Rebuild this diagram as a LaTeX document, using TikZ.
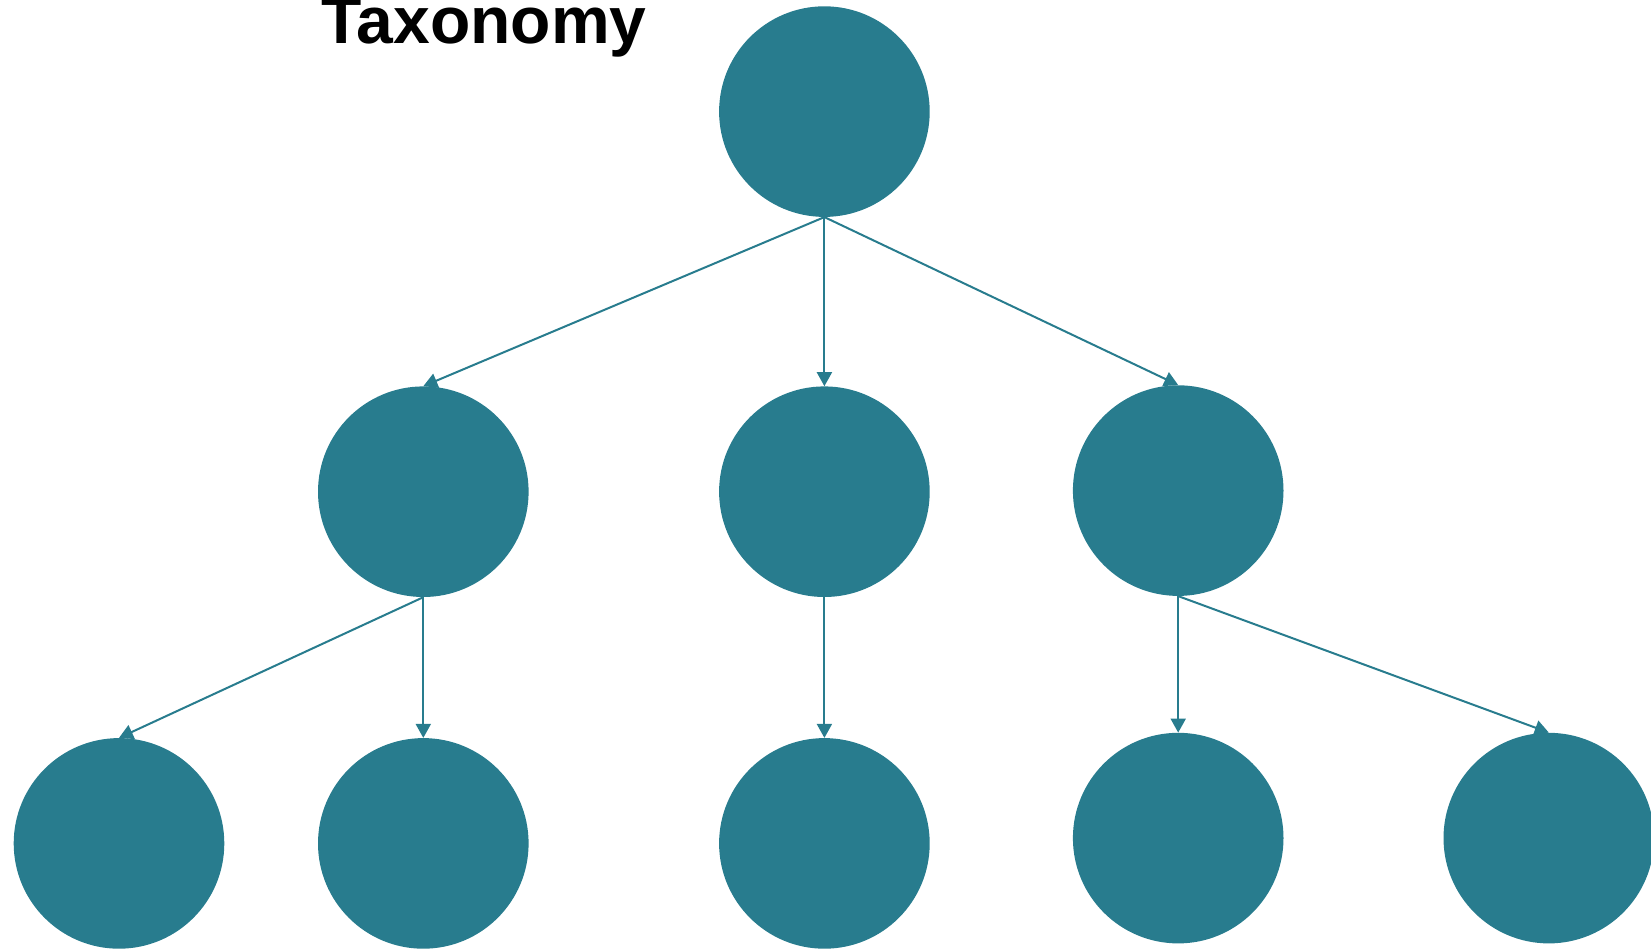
\documentclass[tikz,border=0pt]{standalone}
\usepackage{fontspec}
\setmainfont{Liberation Sans}
\usetikzlibrary{arrows.meta}
\definecolor{teal}{HTML}{287C8E}
\begin{document}
\begin{tikzpicture}[x=1pt,y=-1pt,
  taxon/.style={circle, fill=teal, draw=none, minimum size=210.6pt, inner sep=0pt},
  link/.style={draw=teal, line width=2pt, -{Triangle[length=14pt,width=15pt]}},
  title/.style={font=\bfseries\fontsize{66}{70}\selectfont, anchor=base west, inner sep=0pt}]
  \useasboundingbox (0,0) rectangle (1651,950);
  \clip (0,0) rectangle (1651,950);

  % title
  \node[title] (ttl) at (321,44) {Taxonomy};

  % root
  \node[taxon] (r) at (824.4,111.6) {};

  % second level
  \node[taxon] (a) at (423.3,491.7) {};
  \node[taxon] (b) at (824.4,491.7) {};
  \node[taxon] (c) at (1178.2,490.6) {};

  % third level
  \node[taxon] (a1) at (119,843.4) {};
  \node[taxon] (a2) at (423.3,843.4) {};
  \node[taxon] (b1) at (824.4,843.4) {};
  \node[taxon] (c1) at (1178.2,838.1) {};
  \node[taxon] (c2) at (1548.8,838.1) {};

  % connectors: parent bottom to child top
  \draw[link] (r.south) -- (a.north);
  \draw[link] (r.south) -- (b.north);
  \draw[link] (r.south) -- (c.north);
  \draw[link] (a.south) -- (a1.north);
  \draw[link] (a.south) -- (a2.north);
  \draw[link] (b.south) -- (b1.north);
  \draw[link] (c.south) -- (c1.north);
  \draw[link] (c.south) -- (c2.north);
\end{tikzpicture}
\end{document}
